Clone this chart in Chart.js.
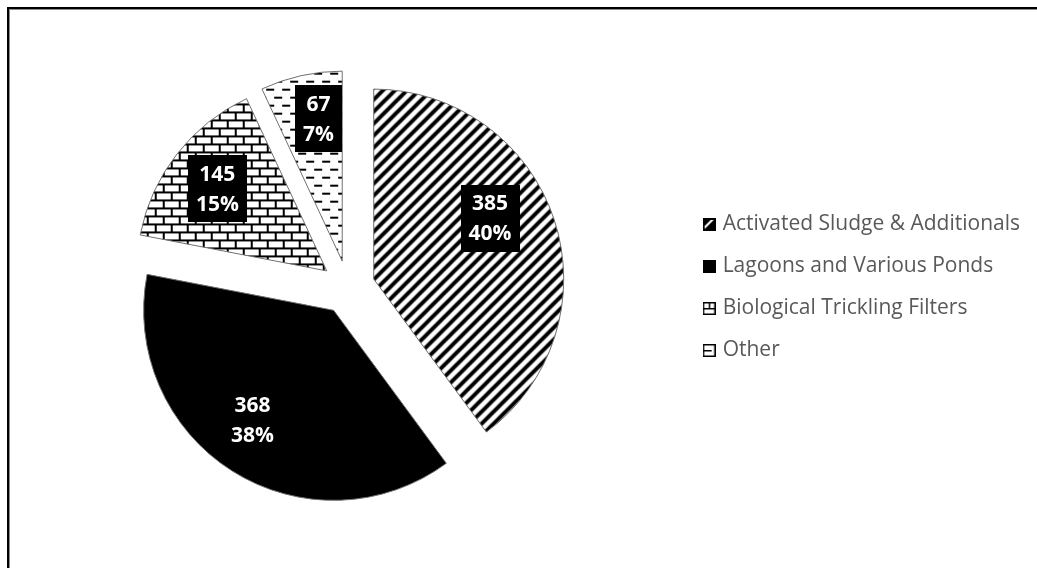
<!DOCTYPE html>
<html>
<head>
<meta charset="utf-8">
<script src="https://cdn.jsdelivr.net/npm/chart.js@4.4.0/dist/chart.umd.min.js"></script>
<style>
  html, body { margin: 0; padding: 0; background: #fff; overflow: hidden; }
  #wrap { position: relative; width: 1037px; height: 568px; overflow: hidden; }
  #frame { position: absolute; left: 7px; top: 7px; width: 1100px; height: 620px;
           border-top: 2px solid #000; border-left: 2px solid #000;
           box-shadow: inset 1px 1px 0 #8c8c8c; }
  canvas { position: absolute; left: 0; top: 0; }
</style>
</head>
<body>
<div id="wrap">
  <div id="frame"></div>
  <canvas id="chart-area" width="1044" height="568"></canvas>
</div>
<script>
// Tipos de tratamiento y numero de plantas
var categories = [
  'Activated Sludge & Additionals',
  'Lagoons and Various Ponds',
  'Biological Trickling Filters',
  'Other'
];
var plants = [385, 368, 145, 67];

var total = plants.reduce(function(a, b) { return a + b; }, 0);
function pct(i) {
  return Math.round(plants[i] * 100 / total) + '%';
}

// tiles for the hatched fills
function tile(w, h, draw) {
  var c = document.createElement('canvas');
  c.width = w;
  c.height = h;
  var g = c.getContext('2d');
  g.fillStyle = '#fff';
  g.fillRect(0, 0, w, h);
  g.fillStyle = '#000';
  g.strokeStyle = '#000';
  draw(g, w, h);
  return c;
}

var stripes = tile(12, 12, function(g, w, h) {
  g.lineWidth = 4;
  g.beginPath();
  [-w, 0, w].forEach(function(o) {
    g.moveTo(o - 2, h + 2);
    g.lineTo(o + w + 2, -2);
  });
  g.stroke();
});

var bricks = tile(16, 16, function(g, w) {
  g.fillRect(0, 0, w, 2);
  g.fillRect(0, 8, w, 2);
  g.fillRect(0, 0, 2, 8);
  g.fillRect(8, 8, 2, 8);
});

var dashes = tile(16, 16, function(g) {
  g.fillRect(0, 3, 8, 2);
  g.fillRect(8, 11, 8, 2);
});

// small swatches for the legend
function swatch(draw) {
  return tile(13, 13, function(g, w, h) {
    draw(g, w, h);
    g.lineWidth = 1.5;
    g.strokeRect(0.75, 0.75, w - 1.5, h - 1.5);
  });
}
var swatches = [
  swatch(function(g) {
    g.fillRect(0, 0, 13, 13);
    g.fillStyle = '#fff';
    g.beginPath();
    g.moveTo(2, 8); g.lineTo(8, 2); g.lineTo(11, 2); g.lineTo(2, 11);
    g.closePath();
    g.fill();
  }),
  swatch(function(g) { g.fillRect(0, 0, 13, 13); }),
  swatch(function(g) {
    g.fillRect(0, 6, 13, 1.5);
    g.fillRect(6, 0, 1.5, 7);
  }),
  swatch(function(g) {
    g.fillRect(0, 6, 9, 1.5);
  })
];

// separa cada porcion hacia afuera
var explode = {
  id: 'explode',
  beforeDatasetDraw: function(chart, args, opts) {
    var ctx = chart.ctx;
    args.meta.data.forEach(function(arc) {
      var mid = (arc.startAngle + arc.endAngle) / 2;
      ctx.save();
      ctx.translate(Math.cos(mid) * opts.distance, Math.sin(mid) * opts.distance);
      arc.draw(ctx, chart.chartArea);
      ctx.restore();
    });
    return false;
  }
};

// etiquetas con fondo negro: valor y porcentaje
var boxLabels = {
  id: 'boxLabels',
  afterDatasetsDraw: function(chart, args, opts) {
    var ctx = chart.ctx;
    var dist = chart.options.plugins.explode.distance;
    ctx.save();
    ctx.font = 'bold 21px "Open Sans"';
    ctx.textAlign = 'center';
    ctx.textBaseline = 'middle';
    chart.getDatasetMeta(0).data.forEach(function(arc, i) {
      var mid = (arc.startAngle + arc.endAngle) / 2;
      var a = arc.startAngle + (arc.endAngle - arc.startAngle) * opts.along[i];
      var r = arc.outerRadius * opts.radial[i];
      var x = arc.x + Math.cos(mid) * dist + Math.cos(a) * r;
      var y = arc.y + Math.sin(mid) * dist + Math.sin(a) * r;
      var lines = [String(plants[i]), pct(i)];
      var w = Math.max(ctx.measureText(lines[0]).width, ctx.measureText(lines[1]).width) + 16;
      var h = 67;
      ctx.fillStyle = '#000';
      ctx.fillRect(Math.round(x - w / 2), Math.round(y - h / 2), Math.round(w), h);
      ctx.fillStyle = '#fff';
      ctx.fillText(lines[0], x, y - 14);
      ctx.fillText(lines[1], x, y + 16);
    });
    ctx.restore();
  }
};

var config = {
  type: 'pie',
  data: {
    labels: categories,
    datasets: [{
      data: plants,
      backgroundColor: [],
      borderColor: '#6f6f6f',
      borderWidth: 1
    }]
  },
  options: {
    responsive: false,
    animation: false,
    radius: 190,
    layout: { padding: { left: 11, top: 7, right: 14, bottom: 0 } },
    plugins: {
      tooltip: { enabled: false },
      explode: { distance: 27 },
      boxLabels: {
        along: [0.435, 0.53, 0.48, 0.62],
        radial: [0.69, 0.72, 0.72, 0.76]
      },
      legend: {
        position: 'right',
        labels: {
          usePointStyle: true,
          boxWidth: 6,
          padding: 21,
          color: '#595959',
          font: { family: '"Open Sans"', size: 21 },
          generateLabels: function(chart) {
            return chart.data.labels.map(function(text, i) {
              return {
                text: text,
                pointStyle: swatches[i],
                fontColor: '#595959',
                hidden: false,
                index: i,
                lineWidth: 0
              };
            });
          }
        }
      }
    }
  },
  plugins: [explode, boxLabels]
};

var ctx = document.getElementById('chart-area').getContext('2d');
config.data.datasets[0].backgroundColor = [
  ctx.createPattern(stripes, 'repeat'),
  '#000',
  ctx.createPattern(bricks, 'repeat'),
  ctx.createPattern(dashes, 'repeat')
];
window.myPie = new Chart(ctx, config);
</script>
</body>
</html>
